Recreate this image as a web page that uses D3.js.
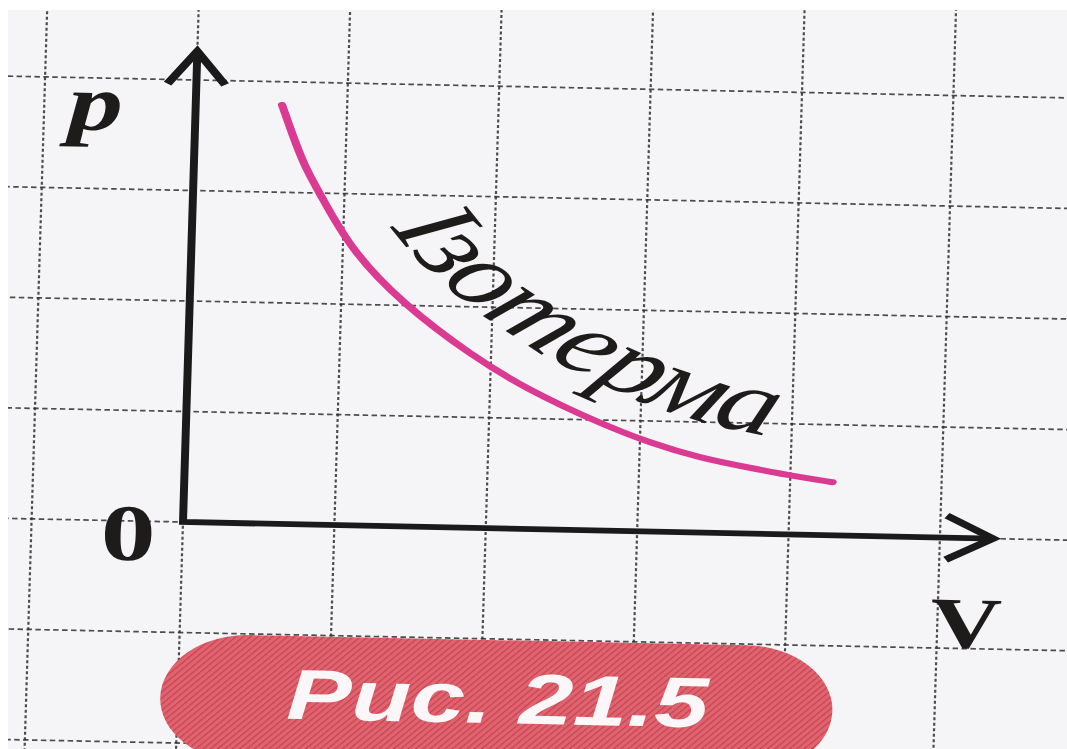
<!DOCTYPE html>
<html>
<head>
  <meta charset="UTF-8">
  <style>
    body { margin: 0; background: #ffffff; }
  </style>
  <title>Ізотерма</title>
</head>
<body>
<svg></svg>
<script src="https://d3js.org/d3.v7.min.js"></script>

<script>

let width = 1067, height = 749;

// values, grid cells as units
const volume   = [0.57, 0.64, 0.73, 0.84, 1.05, 1.40, 1.88, 2.25, 2.73, 3.07, 3.40, 3.73, 4.06, 4.28];
const pressure = [3.79, 3.54, 3.24, 2.99, 2.50, 2.02, 1.55, 1.26, 0.97, 0.80, 0.675, 0.595, 0.52, 0.48];
const gridV = [-1, 0, 1, 2, 3, 4, 5];
const gridP = [-2, -1, 0, 1, 2, 3, 4];
const axisTipV = 5.35, axisTipP = 4.26;
const axisLabels = ["p", "0", "V"];
const curveLabel = "Ізотерма";
const figLabel = "Рис. 21.5";

let cell = 110.5;

let x = d3.scaleLinear().domain([0, 1]).range([0, cell]);
let y = d3.scaleLinear().domain([0, 1]).range([0, -cell]);

let svg = d3.select("svg")
    .attr("width", width)
    .attr("height", height);

let defs = svg.append("defs");

defs.append("clipPath")
    .attr("id", "paper")
  .append("rect")
    .attr("x", 8).attr("y", 10)
    .attr("width", width).attr("height", height);

let pat = defs.append("pattern")
    .attr("id", "hatch")
    .attr("patternUnits", "userSpaceOnUse")
    .attr("width", 4).attr("height", 4)
    .attr("patternTransform", "rotate(40)");
pat.append("rect").attr("width", 4).attr("height", 4).attr("fill", "#de6470");
pat.append("line")
    .attr("x1", 0).attr("y1", 0).attr("x2", 0).attr("y2", 4)
    .attr("stroke", "#ca3f4f").attr("stroke-width", 2);

svg.append("rect")
    .attr("width", width).attr("height", height)
    .attr("fill", "#ffffff");

svg.append("rect")
    .attr("x", 8).attr("y", 10)
    .attr("width", width).attr("height", height)
    .attr("fill", "#f5f4f7");

// the scan is skewed a little and stretched sideways
let plot = svg.append("g")
    .attr("clip-path", "url(#paper)")
  .append("g")
    .attr("transform", "translate(183,522) matrix(1,0.0205,-0.0305,1,0,0) scale(1.37,1)");

// grid
plot.append("g")
    .selectAll("line")
    .data(gridV)
  .enter()
    .append("line")
    .attr("x1", d => x(d)).attr("x2", d => x(d))
    .attr("y1", y(-2.6)).attr("y2", y(5))
    .attr("stroke", "#2f2f2f")
    .attr("stroke-width", 1.6)
    .attr("stroke-dasharray", "3 2.5")
    .attr("opacity", 0.85);

plot.append("g")
    .selectAll("line")
    .data(gridP)
  .enter()
    .append("line")
    .attr("x1", x(-1.6)).attr("x2", x(6.2))
    .attr("y1", d => y(d)).attr("y2", d => y(d))
    .attr("stroke", "#2f2f2f")
    .attr("stroke-width", 1.7)
    .attr("stroke-dasharray", "4 2.5")
    .attr("opacity", 0.85);

// axes with open arrows
plot.append("path")
    .attr("d", "M" + x(0) + "," + y(axisTipP) + " L" + x(0) + "," + y(0) + " L" + x(axisTipV) + "," + y(0))
    .attr("fill", "none")
    .attr("stroke", "#1b1a1a")
    .attr("stroke-width", 5.8)
    .attr("stroke-linejoin", "miter");

plot.append("path")
    .attr("d", "M" + (x(0) - 21) + "," + (y(axisTipP) + 33) + " L" + x(0) + "," + y(axisTipP) + " L" + (x(0) + 21) + "," + (y(axisTipP) + 33))
    .attr("fill", "none")
    .attr("stroke", "#1b1a1a")
    .attr("stroke-width", 6.5);

plot.append("path")
    .attr("d", "M" + (x(axisTipV) - 34) + "," + (y(0) - 22) + " L" + x(axisTipV) + "," + y(0) + " L" + (x(axisTipV) - 34) + "," + (y(0) + 22))
    .attr("fill", "none")
    .attr("stroke", "#1b1a1a")
    .attr("stroke-width", 6.5);

// isotherm
let points = volume.map((v, i) => [x(v), y(pressure[i])]);

let line = d3.line().curve(d3.curveBasis);

let iso = plot.append("path")
    .attr("d", line(points))
    .attr("fill", "none")
    .attr("stroke", "#db3a93")
    .attr("stroke-width", 6)
    .attr("stroke-linecap", "round");

// label path runs parallel to the curve, a little above it
let node = iso.node();
let total = node.getTotalLength();
let samples = d3.range(0, total, 2).map(l => node.getPointAtLength(l));
let offsetPts = [];
for (let i = 1; i < samples.length - 1; i++) {
    let a = samples[i - 1], b = samples[i + 1];
    let tx = b.x - a.x, ty = b.y - a.y;
    let len = Math.sqrt(tx * tx + ty * ty);
    let s = samples[i];
    if (s.x < x(1.04) || s.x > x(3.8)) continue;
    offsetPts.push([s.x + 34 * ty / len, s.y - 34 * tx / len]);
}

let labelPath = plot.append("path")
    .attr("id", "labelPath")
    .attr("d", d3.line()(offsetPts))
    .attr("fill", "none");

plot.append("text")
    .attr("font-family", "Liberation Serif, serif")
    .attr("font-style", "italic")
    .attr("font-size", 90)
    .attr("fill", "#1e1b1b")
  .append("textPath")
    .attr("href", "#labelPath")
    .attr("textLength", labelPath.node().getTotalLength())
    .attr("lengthAdjust", "spacing")
    .text(curveLabel);

// axis letters
plot.append("text")
    .attr("x", x(-0.66)).attr("y", y(3.53))
    .attr("text-anchor", "middle")
    .attr("font-family", "Liberation Serif, serif")
    .attr("font-style", "italic")
    .attr("font-weight", "bold")
    .attr("font-size", 80)
    .attr("fill", "#1e1b1b")
    .text(axisLabels[0]);

plot.append("text")
    .attr("x", x(-0.36)).attr("y", y(-0.355))
    .attr("text-anchor", "middle")
    .attr("font-family", "Liberation Serif, serif")
    .attr("font-weight", "bold")
    .attr("font-size", 80)
    .attr("fill", "#1e1b1b")
    .text(axisLabels[1]);

plot.append("text")
    .attr("x", x(5.19)).attr("y", y(-0.99))
    .attr("text-anchor", "middle")
    .attr("font-family", "Liberation Serif, serif")
    .attr("font-weight", "bold")
    .attr("font-size", 72)
    .attr("fill", "#1e1b1b")
    .text(axisLabels[2]);

// figure caption pill
plot.append("rect")
    .attr("x", x(-0.115)).attr("y", y(-1.01))
    .attr("width", x(4.325) - x(-0.115))
    .attr("height", 128)
    .attr("rx", 64).attr("ry", 64)
    .attr("fill", "url(#hatch)");

plot.append("text")
    .attr("x", x(2.113)).attr("y", y(-1.761))
    .attr("text-anchor", "middle")
    .attr("font-family", "Liberation Sans, Arial, sans-serif")
    .attr("font-style", "italic")
    .attr("font-weight", "bold")
    .attr("font-size", 71)
    .attr("fill", "#fbf6f7")
    .text(figLabel);

</script>

</body>
</html>
